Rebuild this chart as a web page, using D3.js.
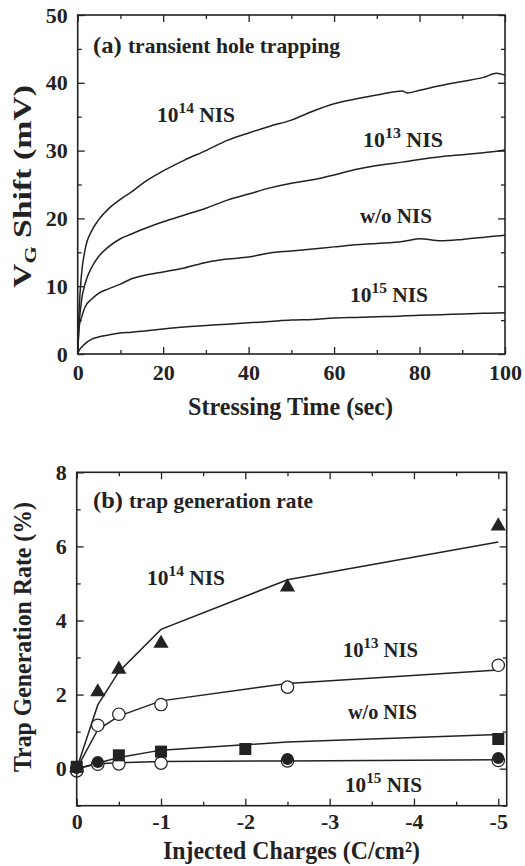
<!DOCTYPE html>
<html><head><meta charset="utf-8">
<script src="https://cdn.jsdelivr.net/npm/d3@7/dist/d3.min.js"></script>
<style>
body{margin:0;background:#fff;}
svg text{font-family:"Liberation Serif","Times New Roman",serif;font-weight:bold;fill:#222;}
</style></head>
<body><svg id="c" width="525" height="866"></svg>
<script>
// ---------- Panel (a) data ----------
const timeSec = [0,0.3,0.9,1.7,3.3,4.8,7.2,10,12.6,15.7,20,25,30,35,40,45,50,55,60,65,70,76,77,80,85,90,95,98,100];
const shiftNIS14 = [0,6,11.8,15.3,18.2,19.7,21.4,22.8,23.9,25.4,27.0,28.6,30.0,31.5,32.6,33.6,34.5,35.8,36.9,37.6,38.2,38.8,38.5,38.9,39.6,40.2,40.8,41.4,41.1];
const shiftNIS13 = [0,4,7.9,10.3,12.8,14.3,15.8,17.0,17.7,18.5,19.5,20.5,21.5,22.7,23.6,24.5,25.2,25.7,26.4,27.2,27.8,28.3,28.4,28.7,29.1,29.4,29.7,29.9,30.1];
const shiftNoNIS = [0,3.9,5.4,6.9,8.1,8.9,9.6,10.3,11.1,11.6,12.1,12.7,13.5,14.0,14.3,14.9,15.2,15.5,15.8,16.1,16.3,16.6,16.7,17.0,16.7,16.9,17.2,17.4,17.5];
const shiftNIS15 = [0,0.5,1.0,1.5,2.2,2.5,2.8,3.1,3.2,3.4,3.7,4.0,4.2,4.4,4.6,4.8,5.0,5.1,5.3,5.4,5.5,5.6,5.65,5.7,5.8,5.9,6.0,6.05,6.1];
const xTicksA = [0,20,40,60,80,100];
const yTicksA = [0,10,20,30,40,50];

// ---------- Panel (b) data ----------
const qNIS14 = [0,-0.25,-0.5,-1,-2.5,-5];
const rateNIS14 = [0.02,2.07,2.68,3.38,4.9,6.55];
const fitNIS14 = [0,1.72,2.62,3.76,5.1,6.12];
const qNIS13 = [0,-0.25,-0.5,-1,-2.5,-5];
const rateNIS13 = [0,1.17,1.47,1.73,2.2,2.79];
const fitNIS13 = [0,1.05,1.42,1.83,2.3,2.66];
const qNoNIS = [0,-0.5,-1,-2,-5];
const rateNoNIS = [0.05,0.36,0.46,0.53,0.8];
const qFitNoNIS = [0,-0.5,-1,-2.5,-5];
const fitNoNIS = [0,0.3,0.5,0.72,0.92];
const qNIS15 = [0,-0.25,-2.5,-5];
const rateNIS15 = [0.02,0.18,0.26,0.29];
const qNIS15open = [0,-0.25,-0.5,-1,-2.5,-5];
const rateNIS15open = [-0.06,0.12,0.13,0.15,0.21,0.22];
const qFitNIS15 = [0,-0.25,-0.5,-1,-2.5,-5];
const fitNIS15 = [0,0.13,0.16,0.19,0.21,0.24];
const xTicksB = [0,-1,-2,-3,-4,-5];
const yTicksB = [0,2,4,6,8];

const svg = d3.select("#c");
const INK = "#222";
const fmt = d => String(d);

function frame(g, x, y, majX, minX, majY, minY, w, h, padX){
  const ax = g.append("g").attr("transform",`translate(0,${h})`)
    .call(d3.axisBottom(x).tickValues(majX).tickSizeInner(-7).tickSizeOuter(0).tickPadding(padX).tickFormat(fmt));
  const axm = g.append("g").attr("transform",`translate(0,${h})`)
    .call(d3.axisBottom(x).tickValues(minX).tickSizeInner(-4).tickSizeOuter(0).tickFormat(""));
  const at = g.append("g").call(d3.axisTop(x).tickValues(majX).tickSizeInner(-7).tickSizeOuter(0).tickFormat(""));
  const atm = g.append("g").call(d3.axisTop(x).tickValues(minX).tickSizeInner(-4).tickSizeOuter(0).tickFormat(""));
  const ay = g.append("g").call(d3.axisLeft(y).tickValues(majY).tickSizeInner(-7).tickSizeOuter(0).tickPadding(10).tickFormat(fmt));
  const aym = g.append("g").call(d3.axisLeft(y).tickValues(minY).tickSizeInner(-4).tickSizeOuter(0).tickFormat(""));
  const ar = g.append("g").attr("transform",`translate(${w},0)`).call(d3.axisRight(y).tickValues(majY).tickSizeInner(-7).tickSizeOuter(0).tickFormat(""));
  const arm = g.append("g").attr("transform",`translate(${w},0)`).call(d3.axisRight(y).tickValues(minY).tickSizeInner(-4).tickSizeOuter(0).tickFormat(""));
  [ax,axm,at,atm,ay,aym,ar,arm].forEach(a=>{
    a.select(".domain").remove();
    a.selectAll("line").attr("stroke",INK).attr("stroke-width",1.3);
    a.selectAll("text").style("font-family",'"Liberation Serif",serif').style("font-weight","bold").style("font-size","22px").attr("fill",INK);
  });
  g.append("rect").attr("x",0).attr("y",0).attr("width",w).attr("height",h)
    .attr("fill","none").attr("stroke",INK).attr("stroke-width",1.6);
}

function fit(t, len){ t.attr("textLength",len).attr("lengthAdjust","spacingAndGlyphs"); return t; }

function supLabel(g, x, y, base, sup, rest, size, len){
  const t = g.append("text").attr("x",x).attr("y",y).style("font-size",size+"px");
  t.append("tspan").text(base);
  t.append("tspan").attr("dy",-size*0.45).style("font-size",(size*0.72)+"px").text(sup);
  t.append("tspan").attr("dy",size*0.45).text(rest);
  if(len) fit(t,len);
  return t;
}

// ---------- Panel (a) ----------
{
  const L=77.7, T=15, W=505-77.7, H=354-15;
  const g = svg.append("g").attr("transform",`translate(${L},${T})`);
  const x = d3.scaleLinear().domain([0,100]).range([0,W]);
  const y = d3.scaleLinear().domain([0,50]).range([H,0]);
  const line = d3.line().x(d=>x(d[0])).y(d=>y(d[1])).curve(d3.curveMonotoneX);
  [shiftNIS14, shiftNIS13, shiftNoNIS, shiftNIS15].forEach(vals=>{
    g.append("path").datum(timeSec.map((t,i)=>[t,vals[i]]))
      .attr("d",line).attr("fill","none").attr("stroke",INK).attr("stroke-width",1.5);
  });
  frame(g, x, y, xTicksA, [10,30,50,70,90], yTicksA, [5,15,25,35,45], W, H, 10);
  const t = g.append("text").attr("x",93-L).attr("y",53-T);
  t.append("tspan").style("font-size","24px").text("(a) ");
  t.append("tspan").style("font-size","21px").text("transient hole trapping");
  fit(t, 247);
  supLabel(g, 157-L, 122-T, "10", "14", " NIS", 21, 78);
  supLabel(g, 363-L, 147-T, "10", "13", " NIS", 21, 80);
  fit(g.append("text").attr("x",360-L).attr("y",223-T).style("font-size","21px").text("w/o NIS"), 72);
  supLabel(g, 350-L, 302-T, "10", "15", " NIS", 21, 78);
  fit(svg.append("text").attr("x",188).attr("y",415)
    .style("font-size","25px").text("Stressing Time (sec)"), 205);
  const yt = svg.append("text").attr("transform",`translate(31,288) rotate(-90)`)
    .style("font-size","26px");
  yt.append("tspan").text("V");
  yt.append("tspan").attr("dy",5).style("font-size","17px").text("G");
  yt.append("tspan").attr("dy",-5).text(" Shift (mV)");
  fit(yt, 203);
}

// ---------- Panel (b) ----------
{
  const L=76.7, T=472.3, W=506.7-76.7, H=805.7-472.3;
  const g = svg.append("g").attr("transform",`translate(${L},${T})`);
  const x = d3.scaleLinear().domain([0,-5.1]).range([0,W]);
  const y = d3.scaleLinear().domain([-1,8]).range([H,0]);
  const line = d3.line().x(d=>x(d[0])).y(d=>y(d[1]));
  const fits = [[qNIS14,fitNIS14],[qNIS13,fitNIS13],[qFitNoNIS,fitNoNIS],[qFitNIS15,fitNIS15]];
  fits.forEach(([qs,vs])=>{
    g.append("path").datum(qs.map((q,i)=>[q,vs[i]])).attr("d",line)
      .attr("fill","none").attr("stroke",INK).attr("stroke-width",1.5);
  });
  const openSets = [[qNIS13,rateNIS13],[qNIS15open,rateNIS15open]];
  openSets.forEach(([qs,vs])=>{
    g.selectAll(null).data(qs.map((q,i)=>[q,vs[i]])).enter().append("circle")
      .attr("cx",d=>x(d[0])).attr("cy",d=>y(d[1])).attr("r",6.2)
      .attr("fill","#fff").attr("stroke",INK).attr("stroke-width",1.2);
  });
  g.selectAll(null).data(qNIS15.map((q,i)=>[q,rateNIS15[i]])).enter().append("circle")
    .attr("cx",d=>x(d[0])).attr("cy",d=>y(d[1])).attr("r",6).attr("fill",INK);
  g.selectAll(null).data(qNoNIS.map((q,i)=>[q,rateNoNIS[i]])).enter().append("rect")
    .attr("x",d=>x(d[0])-6).attr("y",d=>y(d[1])-6).attr("width",12).attr("height",12).attr("fill",INK);
  const tri = d3.symbol().type(d3.symbolTriangle).size(100);
  g.selectAll(null).data(qNIS14.map((q,i)=>[q,rateNIS14[i]])).enter().append("path")
    .attr("d",tri).attr("transform",d=>`translate(${x(d[0])},${y(d[1])})`).attr("fill",INK);
  frame(g, x, y, xTicksB, [-0.5,-1.5,-2.5,-3.5,-4.5], yTicksB, [-1,1,3,5,7], W, H, 8);
  const t = g.append("text").attr("x",93-L).attr("y",508-T);
  t.append("tspan").style("font-size","24px").text("(b) ");
  t.append("tspan").style("font-size","21px").text("trap generation rate");
  fit(t, 220);
  supLabel(g, 147-L, 585-T, "10", "14", " NIS", 21, 78);
  supLabel(g, 343-L, 657-T, "10", "13", " NIS", 21, 75);
  fit(g.append("text").attr("x",348-L).attr("y",719-T).style("font-size","21px").text("w/o NIS"), 69);
  supLabel(g, 345-L, 792-T, "10", "15", " NIS", 21, 77);
  fit(svg.append("text").attr("x",163).attr("y",859).style("font-size","25px")
    .text("Injected Charges (C/cm\u00B2)"), 257);
  fit(svg.append("text").attr("transform",`translate(31,772) rotate(-90)`)
    .style("font-size","26px").text("Trap Generation Rate (%)"), 270);
}
</script></body></html>
